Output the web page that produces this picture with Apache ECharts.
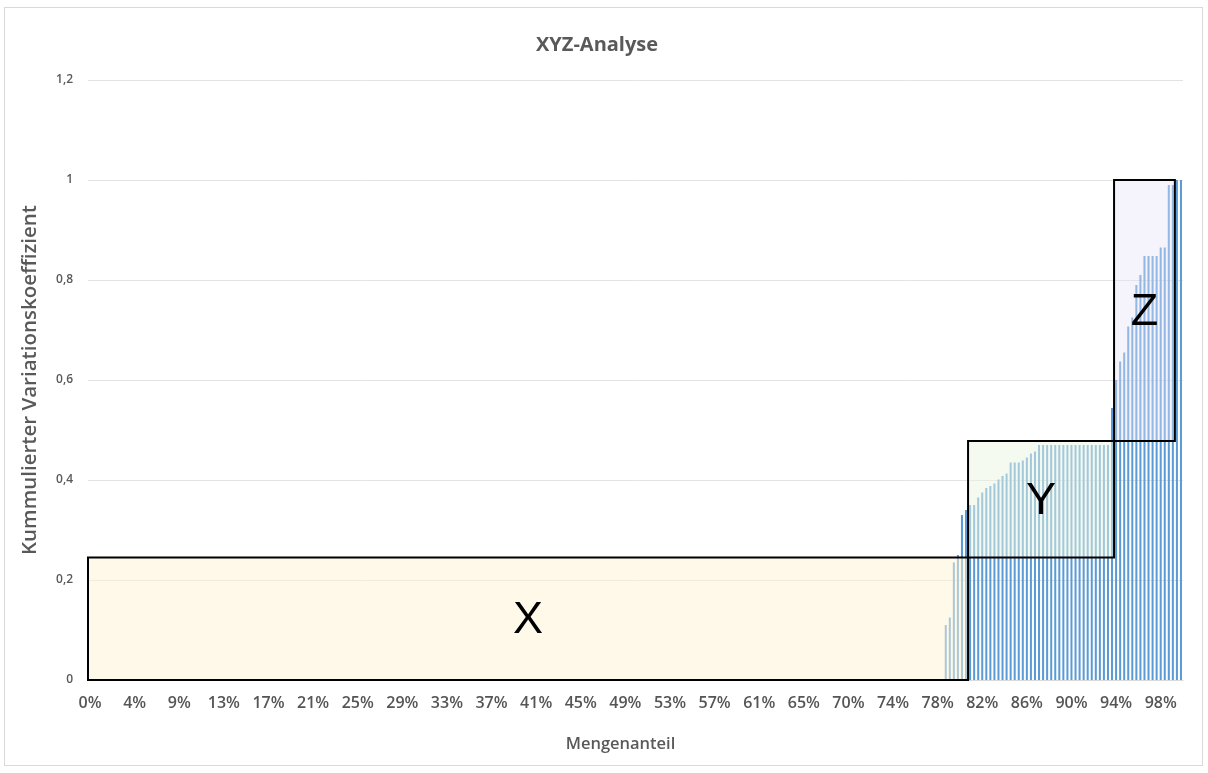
<!DOCTYPE html>
<html>
<head>
<meta charset="utf-8">
<script src="https://cdn.jsdelivr.net/npm/echarts@6/dist/echarts.min.js"></script>
<style>
  html, body { margin: 0; padding: 0; background: #ffffff; }
  #frame { position: absolute; left: 4px; top: 7px; width: 1199px; height: 759px; border: 1px solid #d9d9d9; box-sizing: border-box; }
  #chart { position: absolute; left: 0; top: 0; width: 1208px; height: 773px; }
</style>
</head>
<body>
<div id="frame"></div>
<div id="chart"></div>
<script>
// Tick labels of the quantity share axis (one label every BARS_PER_TICK articles)
const tickLabels = ['0%', '4%', '9%', '13%', '17%', '21%', '25%', '29%', '33%', '37%', '41%', '45%',
  '49%', '53%', '57%', '61%', '65%', '70%', '74%', '78%', '82%', '86%', '90%', '94%', '98%'];
const BARS_PER_TICK = 11;
const BAR_COUNT = 270;

// Articles with a cumulative coefficient of variation of zero
const zeroCount = 211;
// Remaining articles, sorted ascending
const risingValues = [
  0.11, 0.125, 0.235, 0.25, 0.33, 0.34, 0.35, 0.35, 0.365, 0.375, 0.384, 0.388,
  0.393, 0.401, 0.408, 0.413, 0.435, 0.435, 0.435, 0.439, 0.445, 0.453, 0.457, 0.47,
  0.47, 0.47, 0.47, 0.47, 0.47, 0.47, 0.47, 0.47, 0.47, 0.47, 0.47, 0.47, 0.47, 0.47,
  0.47, 0.47, 0.47,
  0.544, 0.6, 0.637, 0.655, 0.707, 0.725, 0.79, 0.81, 0.848, 0.848, 0.848, 0.848,
  0.865, 0.865, 0.99, 0.99, 1.0, 1.0
];

// Class boxes: category boundary from/to, value low/high
const boxNames = ['X', 'Y', 'Z'];
const boxFrom = [0, 217, 253];
const boxTo = [217, 253, 268];
const boxLow = [0, 0.245, 0.478];
const boxHigh = [0.245, 0.478, 1.0];
const boxFills = ['rgba(255, 244, 214, 0.5)', 'rgba(236, 246, 226, 0.5)', 'rgba(230, 224, 245, 0.4)'];

const values = new Array(zeroCount).fill(0).concat(risingValues);
const categories = [];
for (let i = 0; i < BAR_COUNT; i++) {
  categories.push(i % BARS_PER_TICK === 0 ? tickLabels[i / BARS_PER_TICK] : '');
}
const boxData = boxNames.map((n, k) => [boxFrom[k], boxTo[k], boxLow[k], boxHigh[k]]);

const FONT = '"Open Sans", "Noto Sans", sans-serif';
const chart = echarts.init(document.getElementById('chart'), null, { renderer: 'canvas' });
chart.setOption({
  animation: false,
  title: {
    text: 'XYZ-Analyse',
    left: 531, top: 30,
    textStyle: { fontFamily: FONT, fontSize: 20, fontWeight: 'bold', color: '#595959' }
  },
  grid: { left: 88, right: 25, top: 80, bottom: 93, containLabel: false },
  xAxis: {
    type: 'category',
    data: categories,
    boundaryGap: true,
    axisTick: { show: false },
    axisLine: { show: true, lineStyle: { color: '#d9d9d9' } },
    axisLabel: {
      interval: BARS_PER_TICK - 1,
      margin: 15,
      color: '#555555',
      fontFamily: FONT,
      fontSize: 16,
      fontWeight: 600
    },
    name: 'Mengenanteil',
    nameLocation: 'middle',
    nameGap: 56,
    nameTextStyle: { fontFamily: FONT, fontSize: 16.5, fontWeight: 600, color: '#595959', padding: [0, 30, 0, 0] }
  },
  yAxis: {
    type: 'value',
    min: 0, max: 1.2, interval: 0.2,
    axisLine: { show: false },
    axisTick: { show: false },
    splitLine: { lineStyle: { color: '#e3e3e3', width: 1 } },
    axisLabel: {
      margin: 15,
      color: '#595959',
      fontFamily: FONT,
      fontSize: 12,
      fontWeight: 600,
      formatter: v => String(Math.round(v * 10) / 10).replace('.', ',')
    },
    name: 'Kummulierter Variationskoeffizient',
    nameLocation: 'middle',
    nameGap: 47,
    nameTextStyle: { fontFamily: FONT, fontSize: 20.5, fontWeight: 600, color: '#595959' }
  },
  series: [
    {
      type: 'bar',
      data: values,
      barCategoryGap: '50%',
      itemStyle: { color: '#5b9bd5' },
      z: 2
    },
    {
      type: 'custom',
      data: boxData,
      encode: { x: [0, 1], y: [2, 3] },
      z: 5,
      silent: true,
      renderItem: (params, api) => {
        const k = params.dataIndex;
        const half = api.size([1, 0])[0] / 2;
        const a = api.coord([api.value(0), api.value(3)]);
        const b = api.coord([api.value(1), api.value(2)]);
        const x0 = a[0] - half, x1 = b[0] - half;
        const y0 = a[1], y1 = b[1];
        return {
          type: 'group',
          children: [
            {
              type: 'rect',
              shape: { x: x0, y: y0, width: x1 - x0, height: y1 - y0 },
              style: { fill: boxFills[k], stroke: '#000000', lineWidth: 2 }
            },
            {
              type: 'text',
              style: {
                text: boxNames[k],
                x: (x0 + x1) / 2,
                y: (y0 + y1) / 2 + 2,
                align: 'center',
                verticalAlign: 'middle',
                font: '45px "Liberation Sans", Arial, sans-serif',
                fill: '#000000'
              }
            }
          ]
        };
      }
    }
  ]
});
</script>
</body>
</html>
